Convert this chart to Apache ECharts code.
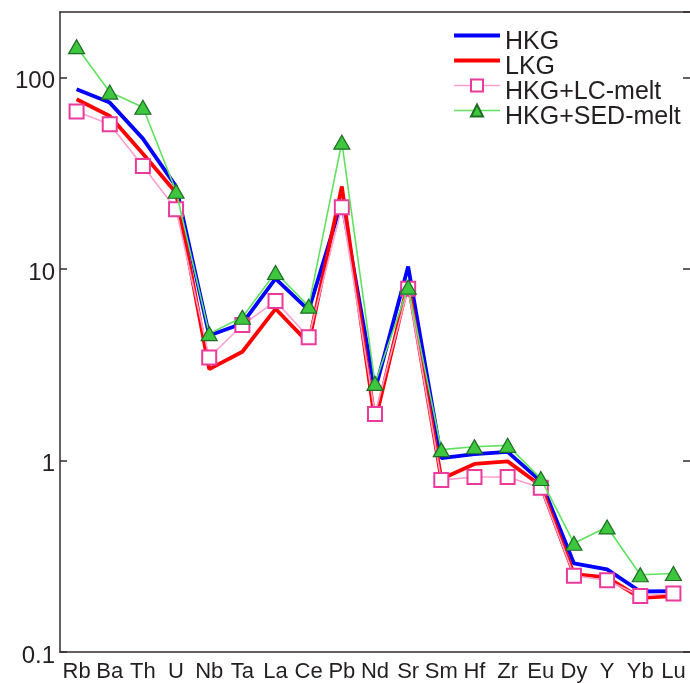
<!DOCTYPE html>
<html>
<head>
<meta charset="utf-8">
<script src="https://cdn.jsdelivr.net/npm/echarts@6/dist/echarts.min.js"></script>
<style>
  html, body { margin: 0; padding: 0; background: #fff; }
  #chart { width: 690px; height: 683px; }
</style>
</head>
<body>
<div id="chart"></div>
<script>
// Trace elements, primitive-mantle normalised
const elements = ['Rb','Ba','Th','U','Nb','Ta','La','Ce','Pb','Nd','Sr','Sm','Hf','Zr','Eu','Dy','Y','Yb','Lu'];

const hkg      = [87, 74, 48, 27, 4.5, 5.2, 8.9, 6.1, 22.5, 2.33, 10.3, 1.03, 1.08, 1.11, 0.78, 0.29, 0.27, 0.207, 0.208];
const lkg      = [77, 63, 40, 25, 3.0, 3.7, 6.2, 4.1, 27, 1.6, 8.5, 0.80, 0.96, 0.99, 0.74, 0.255, 0.245, 0.192, 0.196];
const hkgLc    = [66.5, 57, 34.5, 20.5, 3.45, 5.1, 6.8, 4.4, 21, 1.75, 7.9, 0.79, 0.82, 0.82, 0.72, 0.25, 0.237, 0.196, 0.202];
const hkgSed   = [145, 84, 70, 25.5, 4.6, 5.6, 9.6, 6.4, 46, 2.53, 8.05, 1.14, 1.18, 1.2, 0.805, 0.37, 0.45, 0.253, 0.257];

const yTickValues = [0.1, 1, 10, 100];

const axisColor = '#332c2c';
const textColor = '#231f20';
const fontFamily = '"Liberation Sans", Arial, Helvetica, sans-serif';

function decadeLabel(v) {
  const n = Number(Number(v).toPrecision(6));
  return yTickValues.some(t => Math.abs(t - n) < 1e-9) ? String(n) : '';
}

const yAxisBase = {
  type: 'log',
  logBase: 10,
  min: 0.1,
  max: 220,
  splitLine: { show: false },
  axisTick: { show: true, inside: true, length: 7, lineStyle: { color: axisColor, width: 1.5 } },
  minorTick: { show: false }
};

const chart = echarts.init(document.getElementById('chart'), null, { renderer: 'canvas' });

chart.setOption({
  animation: false,
  backgroundColor: '#ffffff',
  grid: { left: 60, top: 12, width: 632, height: 640 },
  legend: {
    left: 447,
    top: 11,
    orient: 'vertical',
    itemWidth: 46,
    itemHeight: 15,
    itemGap: -14,
    // an empty leading line drops each name a little below its key line
    formatter: name => '\n' + name,
    textStyle: {
      fontFamily: fontFamily,
      fontSize: 25,
      color: textColor,
      lineHeight: 14
    },
    data: [
      { name: 'HKG', itemStyle: { opacity: 0 }, lineStyle: { width: 4 } },
      { name: 'LKG', itemStyle: { opacity: 0 }, lineStyle: { width: 4 } },
      { name: 'HKG+LC-melt', lineStyle: { width: 1.6 } },
      { name: 'HKG+SED-melt', lineStyle: { width: 1.6 } }
    ]
  },
  xAxis: [
    {
      type: 'category',
      data: elements,
      boundaryGap: true,
      position: 'bottom',
      axisLine: { show: true, lineStyle: { color: axisColor, width: 1.5 } },
      axisTick: { show: false },
      axisLabel: {
        interval: 0,
        margin: 9,
        color: textColor,
        fontFamily: fontFamily,
        fontSize: 22
      },
      splitLine: { show: false }
    },
    {
      type: 'category',
      data: elements,
      position: 'top',
      axisLine: { show: true, lineStyle: { color: axisColor, width: 1.5 } },
      axisTick: { show: false },
      axisLabel: { show: false },
      splitLine: { show: false }
    }
  ],
  yAxis: [
    Object.assign({}, yAxisBase, {
      position: 'left',
      axisLine: { show: true, lineStyle: { color: axisColor, width: 1.5 } },
      axisLabel: {
        show: true,
        showMaxLabel: false,
        margin: 5,
        color: textColor,
        fontFamily: fontFamily,
        fontSize: 24,
        verticalAlign: 'top',
        lineHeight: 8,
        formatter: decadeLabel
      }
    }),
    Object.assign({}, yAxisBase, {
      position: 'right',
      axisLine: { show: false },
      axisLabel: { show: false }
    })
  ],
  series: [
    {
      name: 'HKG',
      type: 'line',
      data: hkg,
      symbol: 'none',
      lineStyle: { color: '#0000ff', width: 3.8 },
      itemStyle: { color: '#0000ff' },
      z: 2
    },
    {
      name: 'LKG',
      type: 'line',
      data: lkg,
      symbol: 'none',
      lineStyle: { color: '#ff0000', width: 3.8 },
      itemStyle: { color: '#ff0000' },
      z: 3
    },
    {
      name: 'HKG+LC-melt',
      type: 'line',
      data: hkgLc,
      symbol: 'rect',
      symbolSize: 14,
      lineStyle: { color: '#ff9fcf', width: 1.6 },
      itemStyle: { color: '#ffffff', borderColor: '#ea3a9b', borderWidth: 2 },
      z: 4
    },
    {
      name: 'HKG+SED-melt',
      type: 'line',
      data: hkgSed,
      symbol: 'triangle',
      symbolSize: [16, 14],
      lineStyle: { color: '#5fe25f', width: 1.6 },
      itemStyle: { color: '#3ec63e', borderColor: '#1c6e24', borderWidth: 1.2 },
      z: 5
    }
  ]
});
</script>
</body>
</html>
